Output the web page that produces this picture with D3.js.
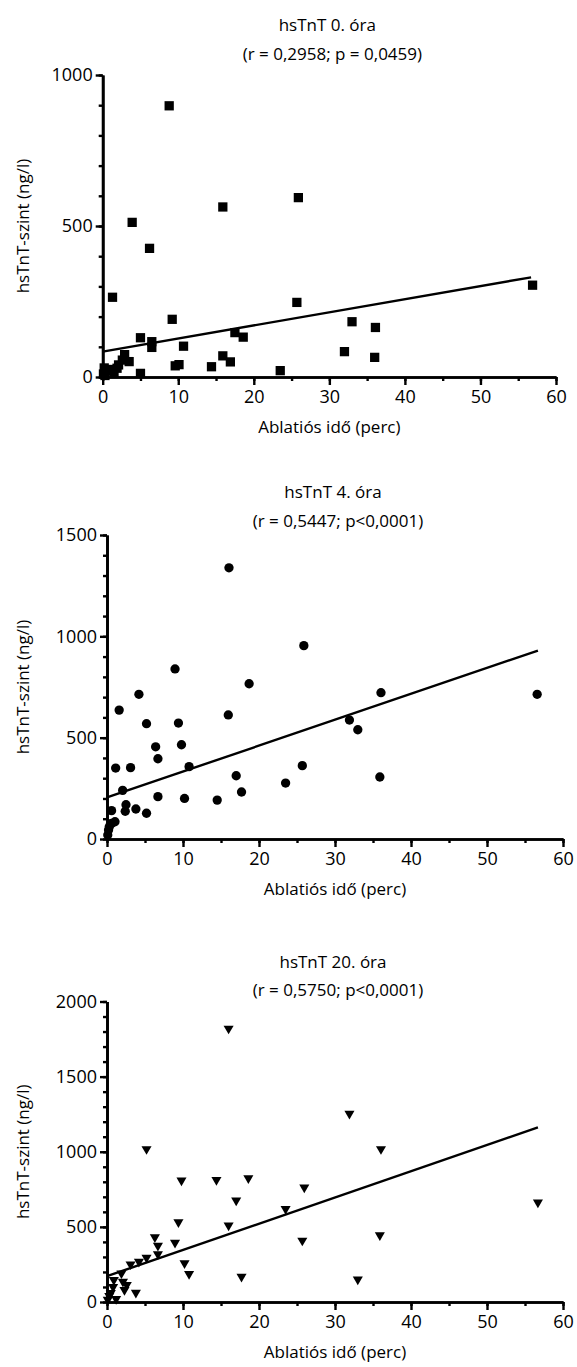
<!DOCTYPE html>
<html>
<head>
<meta charset="utf-8">
<script src="https://cdn.jsdelivr.net/npm/d3@7"></script>
<style>
  html, body { margin: 0; padding: 0; background: #fff; }
  svg { display: block; }
  text { font-family: "Open Sans", "Noto Sans", sans-serif; fill: #000; }
</style>
</head>
<body>
<svg id="chart" width="577" height="1367"></svg>
<script>
// ---------- DATA ----------
const titles = ["hsTnT 0. óra", "hsTnT 4. óra", "hsTnT 20. óra"];
const stats = ["(r = 0,2958; p = 0,0459)", "(r = 0,5447; p<0,0001)", "(r = 0,5750; p<0,0001)"];
const xTitle = "Ablatiós idő (perc)";
const yTitle = "hsTnT-szint (ng/l)";
const xTickLabels = [0, 10, 20, 30, 40, 50, 60];
const yTickLabels0 = [0, 500, 1000];
const yTickLabels4 = [0, 500, 1000, 1500];
const yTickLabels20 = [0, 500, 1000, 1500, 2000];

// hsTnT 0. óra (squares)
const x0 = [8.8, 15.9, 3.9, 6.2, 1.3, 9.2, 5.0, 6.5, 6.5, 10.7, 17.5, 18.6, 15.9, 16.9, 9.6, 10.1, 14.4, 23.5, 5.0, 2.9, 3.5, 2.6, 1.9, 25.9, 25.7, 56.9, 33.0, 36.1, 32.0, 36.0, 0.2, 0.6, 1.0, 0.1, 0.3, 1.5, 2.1];
const y0 = [898, 563, 512, 426, 264, 191, 130, 117, 98, 102, 147, 132, 70, 50, 37, 41, 34, 21, 12, 74, 51, 56, 29, 594, 247, 304, 183, 164, 84, 65, 30, 20, 25, 10, 5, 15, 40];
const fit0 = [[0, 84], [56.7, 330]];

// hsTnT 4. óra (circles)
const x4 = [16.05, 8.95, 18.7, 4.2, 1.6, 15.96, 5.2, 9.4, 6.4, 9.8, 6.7, 10.8, 1.14, 3.1, 2.06, 17.0, 17.7, 6.7, 10.2, 14.5, 23.5, 2.5, 2.4, 3.8, 5.2, 0.6, 1.05, 0.6, 0.2, 0.1, 25.9, 36.05, 56.6, 31.9, 33.0, 25.7, 35.9, 0.3];
const y4 = [1338, 839, 766, 714, 636, 612, 569, 572, 455, 465, 396, 357, 350, 352, 240, 312, 232, 209, 200, 192, 276, 169, 137, 148, 127, 140, 85, 77, 44, 20, 954, 722, 714, 587, 539, 362, 306, 60];
const fit4 = [[0, 205], [56.7, 930]];

// hsTnT 20. óra (triangles)
const x20 = [16.0, 5.2, 9.8, 14.4, 18.6, 17.0, 23.5, 9.4, 16.0, 6.3, 6.7, 8.95, 6.7, 5.2, 4.2, 3.1, 10.2, 10.8, 17.7, 1.9, 0.9, 2.1, 2.6, 2.3, 3.8, 0.8, 0.3, 0.1, 0.5, 31.9, 36.05, 25.96, 56.7, 25.7, 35.9, 33.0, 1.2];
const y20 = [1820, 1018, 809, 813, 824, 676, 620, 531, 509, 431, 375, 395, 318, 295, 269, 251, 258, 187, 169, 191, 147, 135, 113, 80, 62, 100, 40, 15, 60, 1253, 1018, 762, 662, 409, 445, 151, 20];
const fit20 = [[0, 172], [56.7, 1162]];

// ---------- LAYOUT ----------
const panels = [
  { xs: x0, ys: y0, fit: fit0, yTicks: yTickLabels0, yMax: 1000, sym: d3.symbolSquare, size: 86, rot: 0,
    left: 102.7, right: 556, top: 75, bottom: 377, titleY: 24, statY: 53, title: titles[0], stat: stats[0] },
  { xs: x4, ys: y4, fit: fit4, yTicks: yTickLabels4, yMax: 1500, sym: d3.symbolCircle, size: 68, rot: 0,
    left: 107, right: 563, top: 535, bottom: 839, titleY: 491, statY: 520, title: titles[1], stat: stats[1] },
  { xs: x20, ys: y20, fit: fit20, yTicks: yTickLabels20, yMax: 2000, sym: d3.symbolTriangle, size: 44, rot: 180,
    left: 107, right: 563, top: 1001.5, bottom: 1302, titleY: 961, statY: 989, title: titles[2], stat: stats[2] }
];

const svg = d3.select("#chart");

panels.forEach(p => {
  const g = svg.append("g");
  const x = d3.scaleLinear().domain([0, 60]).range([p.left, p.right]);
  const y = d3.scaleLinear().domain([0, p.yMax]).range([p.bottom, p.top]);
  const cx = (p.left + p.right) / 2;

  // titles
  g.append("text").attr("x", cx - 2).attr("y", p.titleY).attr("text-anchor", "middle")
    .attr("dominant-baseline", "central").style("font-size", "17px").text(p.title);
  g.append("text").attr("x", cx + 3).attr("y", p.statY).attr("text-anchor", "middle")
    .attr("dominant-baseline", "central").style("font-size", "17px").text(p.stat);

  // ticks
  const yMinor = d3.range(0, p.yMax + 1, 100);
  const xMinor = d3.range(0, 61, 5);
  const yMinorAxis = d3.axisLeft(y).tickValues(yMinor).tickSize(4).tickSizeOuter(0).tickFormat("");
  const xMinorAxis = d3.axisBottom(x).tickValues(xMinor).tickSize(4).tickSizeOuter(0).tickFormat("");
  const yMajorAxis = d3.axisLeft(y).tickValues(p.yTicks).tickSize(7).tickSizeOuter(0).tickPadding(3).tickFormat(d3.format("d"));
  const xMajorAxis = d3.axisBottom(x).tickValues(xTickLabels).tickSize(8).tickSizeOuter(0).tickPadding(5).tickFormat(d3.format("d"));

  const styleAxis = sel => {
    sel.selectAll("path.domain").attr("stroke", "#000").attr("stroke-width", 2.7);
    sel.selectAll(".tick line").attr("stroke", "#000").attr("stroke-width", 2.4);
    sel.selectAll(".tick text").style("font-size", "18px").attr("fill", "#000");
  };

  g.append("g").attr("transform", `translate(0,${p.bottom})`).call(xMinorAxis).call(styleAxis);
  g.append("g").attr("transform", `translate(0,${p.bottom})`).call(xMajorAxis).call(styleAxis);
  g.append("g").attr("transform", `translate(${p.left},0)`).call(yMinorAxis).call(styleAxis);
  g.append("g").attr("transform", `translate(${p.left},0)`).call(yMajorAxis).call(styleAxis);

  // axis titles
  g.append("text").attr("x", cx).attr("y", p.bottom + 49).attr("text-anchor", "middle")
    .attr("dominant-baseline", "central").style("font-size", "17px").text(xTitle);
  g.append("text").attr("transform", `translate(22,${(p.top + p.bottom) / 2}) rotate(-90)`)
    .attr("text-anchor", "middle").attr("dominant-baseline", "central").style("font-size", "17px").text(yTitle);

  // regression line
  g.append("path").datum(p.fit)
    .attr("d", d3.line().x(d => x(d[0])).y(d => y(d[1])))
    .attr("fill", "none").attr("stroke", "#000").attr("stroke-width", 2.4);

  // points
  const pts = p.xs.map((v, i) => [v, p.ys[i]]);
  g.append("g").selectAll("path").data(pts).join("path")
    .attr("d", d3.symbol().type(p.sym).size(p.size))
    .attr("transform", d => `translate(${x(d[0])},${y(d[1])}) rotate(${p.rot})`)
    .attr("fill", "#000");
});
</script>
</body>
</html>
